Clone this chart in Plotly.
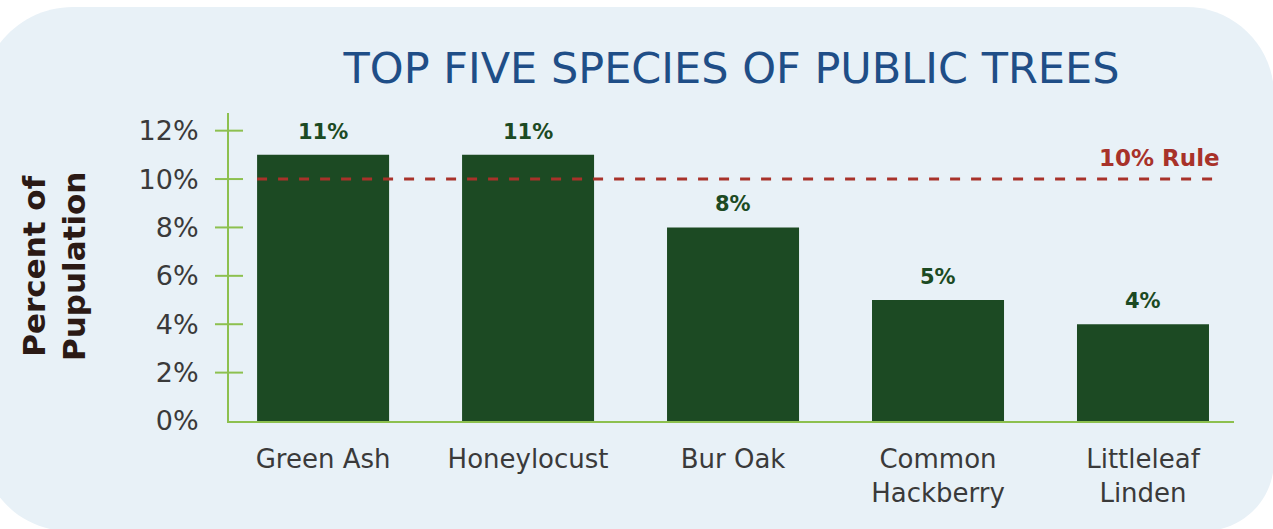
import plotly.graph_objects as go

# ---- data ----
species = ["Green Ash", "Honeylocust", "Bur Oak", "Common Hackberry", "Littleleaf Linden"]
tick_labels = ["Green Ash", "Honeylocust", "Bur Oak", "Common<br>Hackberry", "Littleleaf<br>Linden"]
percent = [11, 11, 8, 5, 4]
y_ticks = [0, 2, 4, 6, 8, 10, 12]
y_tick_text = ["0%", "2%", "4%", "6%", "8%", "10%", "12%"]
rule_value = 10
rule_label = "10% Rule"

# ---- styling ----
W, H = 1273, 529
M_L, M_R, M_T, M_B = 229, 39, 113, 108
PW, PH = W - M_L - M_R, H - M_T - M_B
PANEL = "#E8F1F7"
BAR = "#1C4A23"
AXIS = "#8DC04F"
RED = "#A8322A"
FONT = "DejaVu Sans"


def pt(px, py):
    """pixel position -> paper coordinates string"""
    return f"{(px - M_L) / PW:.5f},{(H - M_B - py) / PH:.5f}"


def rounded_panel(x0, y0, x1, y1, r_tl, r_tr, r_br, r_bl):
    k = 0.5523
    return (
        f"M{pt(x0 + r_tl, y0)} L{pt(x1 - r_tr, y0)} "
        f"C{pt(x1 - r_tr + k * r_tr, y0)} {pt(x1, y0 + r_tr - k * r_tr)} {pt(x1, y0 + r_tr)} "
        f"L{pt(x1, y1 - r_br)} "
        f"C{pt(x1, y1 - r_br + k * r_br)} {pt(x1 - r_br + k * r_br, y1)} {pt(x1 - r_br, y1)} "
        f"L{pt(x0 + r_bl, y1)} "
        f"C{pt(x0 + r_bl - k * r_bl, y1)} {pt(x0, y1 - r_bl + k * r_bl)} {pt(x0, y1 - r_bl)} "
        f"L{pt(x0, y0 + r_tl)} "
        f"C{pt(x0, y0 + r_tl - k * r_tl)} {pt(x0 + r_tl - k * r_tl, y0)} {pt(x0 + r_tl, y0)} Z"
    )


fig = go.Figure()
fig.add_trace(go.Bar(
    x=species, y=percent, width=0.644,
    marker=dict(color=BAR, line=dict(width=0)),
    hoverinfo="skip",
))

shapes = [
    dict(type="path", xref="paper", yref="paper", layer="below",
         path=rounded_panel(-19, 7, 1274, 531, 92, 88, 70, 88),
         fillcolor=PANEL, line=dict(width=0)),
    # 10% rule line
    dict(type="line", xref="x", yref="y", x0=-0.322, x1=4.39,
         y0=rule_value, y1=rule_value, layer="above",
         line=dict(color=RED, width=3, dash="10px,11px")),
]
# cross-shaped tick marks on the value axis
for v in y_ticks[1:]:
    shapes.append(dict(type="line", xref="paper", yref="y",
                       x0=-14 / PW, x1=14 / PW, y0=v, y1=v,
                       line=dict(color=AXIS, width=2)))

annotations = [
    dict(x=s, y=v, xref="x", yref="y", text=f"<b>{v}%</b>", showarrow=False,
         yanchor="bottom", yshift=9,
         font=dict(family=FONT, size=21, color=BAR))
    for s, v in zip(species, percent)
]
annotations.append(dict(
    x=(1222 - M_L) / PW, y=rule_value, xref="paper", yref="y",
    text=f"<b>{rule_label}</b>", showarrow=False,
    xanchor="right", yanchor="bottom", yshift=6,
    font=dict(family=FONT, size=23, color=RED)))
annotations.append(dict(
    x=(54 - M_L) / PW, y=0.5, xref="paper", yref="paper",
    text="<b>Percent of<br>Pupulation</b>", showarrow=False, textangle=-90,
    xanchor="center", yanchor="middle",
    font=dict(family=FONT, size=31, color="#2B1A15")))

fig.update_layout(
    width=W, height=H, autosize=False,
    margin=dict(l=M_L, r=M_R, t=M_T, b=M_B, pad=0),
    paper_bgcolor="white", plot_bgcolor="rgba(0,0,0,0)",
    showlegend=False,
    title=dict(text="TOP FIVE SPECIES OF PUBLIC TREES",
               x=0.5, xref="paper", xanchor="center",
               y=1 - 68 / H, yref="container", yanchor="middle",
               font=dict(family=FONT, size=43, color="#1F4E87")),
    shapes=shapes,
    annotations=annotations,
    xaxis=dict(
        range=[-0.459, 4.444], tickvals=species, ticktext=tick_labels,
        showline=True, linecolor=AXIS, linewidth=2, ticks="",
        showgrid=False, zeroline=False, ticklabelstandoff=14,
        tickfont=dict(family=FONT, size=26, color="#3A3A3A"),
    ),
    yaxis=dict(
        range=[0, 12.73], tickvals=y_ticks, ticktext=y_tick_text,
        showline=True, linecolor=AXIS, linewidth=2, ticks="",
        showgrid=False, zeroline=False, ticklabelstandoff=23,
        tickfont=dict(family=FONT, size=27, color="#3A3A3A"),
    ),
)

fig.write_html("out.html")
